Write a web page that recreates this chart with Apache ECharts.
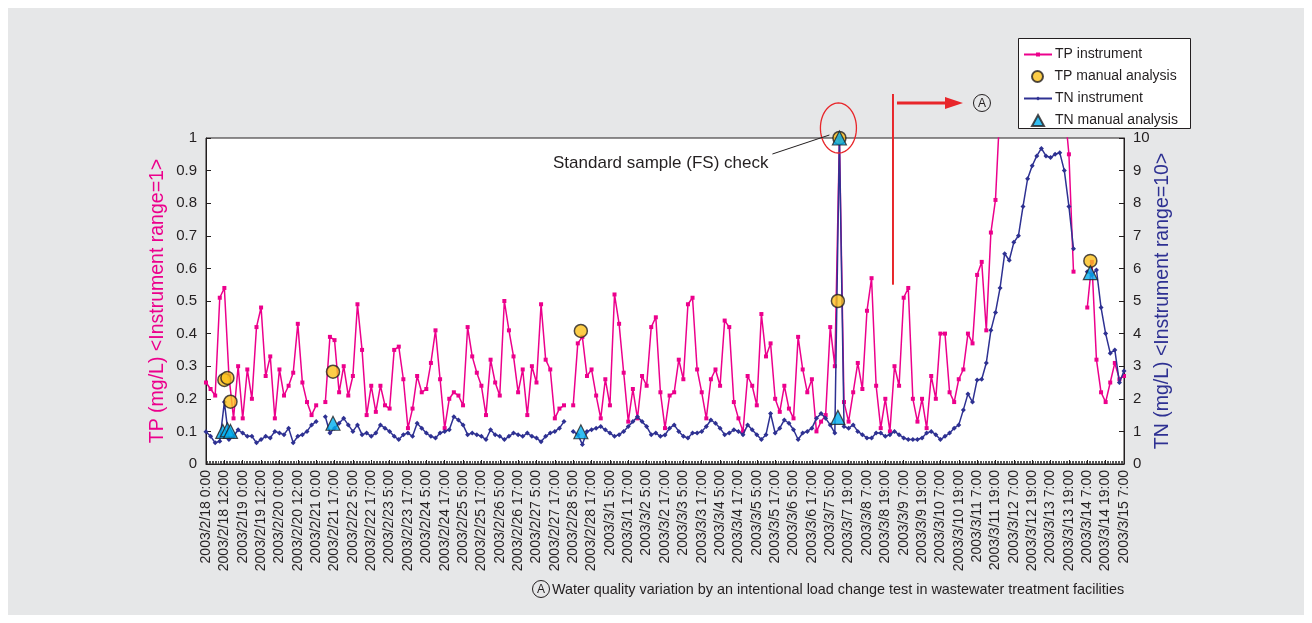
<!DOCTYPE html>
<html><head><meta charset="utf-8">
<script src="https://cdn.jsdelivr.net/npm/echarts@6/dist/echarts.min.js"></script>
<style>html,body{margin:0;padding:0;background:#fff}#c{width:1312px;height:623px}</style>
</head><body><div id="c"></div>
<script>
// x positions are hourly sample indices (0 .. 600); one tick label every 12 samples
const tickLabels = ["2003/2/18 0:00","2003/2/18 12:00","2003/2/19 0:00","2003/2/19 12:00","2003/2/20 0:00","2003/2/20 12:00","2003/2/21 0:00","2003/2/21 17:00","2003/2/22 5:00","2003/2/22 17:00","2003/2/23 5:00","2003/2/23 17:00","2003/2/24 5:00","2003/2/24 17:00","2003/2/25 5:00","2003/2/25 17:00","2003/2/26 5:00","2003/2/26 17:00","2003/2/27 5:00","2003/2/27 17:00","2003/2/28 5:00","2003/2/28 17:00","2003/3/1 5:00","2003/3/1 17:00","2003/3/2 5:00","2003/3/2 17:00","2003/3/3 5:00","2003/3/3 17:00","2003/3/4 5:00","2003/3/4 17:00","2003/3/5 5:00","2003/3/5 17:00","2003/3/6 5:00","2003/3/6 17:00","2003/3/7 5:00","2003/3/7 19:00","2003/3/8 7:00","2003/3/8 19:00","2003/3/9 7:00","2003/3/9 19:00","2003/3/10 7:00","2003/3/10 19:00","2003/3/11 7:00","2003/3/11 19:00","2003/3/12 7:00","2003/3/12 19:00","2003/3/13 7:00","2003/3/13 19:00","2003/3/14 7:00","2003/3/14 19:00","2003/3/15 7:00"];
const samplesPerLabel = 12;
const instrumentStep = 3; // instrument values below are every 3rd sample
const tpInstrument = [0.25,0.23,0.21,0.51,0.54,0.27,0.14,0.30,0.14,0.29,0.20,0.42,0.48,0.27,0.33,0.14,0.29,0.21,0.24,0.28,
0.43,0.25,0.19,0.15,0.18,null,0.19,0.39,0.38,0.22,0.30,0.21,0.27,0.49,0.35,0.15,0.24,0.16,0.24,0.18,
0.17,0.35,0.36,0.26,0.11,0.17,0.27,0.22,0.23,0.31,0.41,0.26,0.11,0.20,0.22,0.21,0.18,0.42,0.33,0.28,
0.24,0.15,0.32,0.25,0.21,0.50,0.41,0.33,0.22,0.29,0.15,0.30,0.25,0.49,0.32,0.29,0.14,0.17,0.18,null,
0.18,0.37,0.39,0.27,0.29,0.21,0.14,0.26,0.18,0.52,0.43,0.28,0.13,0.23,0.14,0.27,0.24,0.42,0.45,0.22,
0.11,0.21,0.22,0.32,0.26,0.49,0.51,0.29,0.22,0.14,0.26,0.29,0.24,0.44,0.42,0.19,0.14,0.10,0.27,0.24,
0.18,0.46,0.33,0.37,0.20,0.16,0.24,0.17,0.14,0.39,0.29,0.22,0.26,0.10,0.13,0.15,0.42,0.30,1.00,0.19,
0.13,0.22,0.31,0.23,0.47,0.57,0.24,0.11,0.20,0.10,0.30,0.24,0.51,0.54,0.20,0.13,0.20,0.11,0.27,0.20,
0.40,0.40,0.22,0.19,0.26,0.29,0.40,0.37,0.58,0.62,0.41,0.71,0.81,1.10,null,null,null,null,null,null,
null,null,null,null,null,null,null,1.10,0.95,0.59,null,null,0.48,0.62,0.32,0.22,0.19,0.25,0.31,0.26,0.27];
const tnInstrument = [0.99,0.85,0.65,0.70,1.90,0.75,0.85,1.05,0.95,0.85,0.85,0.65,0.75,0.85,0.80,1.00,0.95,0.90,1.10,0.65,
0.85,0.90,1.00,1.20,1.30,null,1.45,0.95,1.10,1.25,1.40,1.20,1.00,1.20,0.90,0.95,0.85,0.95,1.20,1.10,
1.00,0.85,0.75,0.90,0.95,0.85,1.25,1.10,0.95,0.85,0.80,0.95,1.00,1.05,1.45,1.35,1.20,0.90,0.95,0.90,
0.85,0.75,1.05,0.90,0.85,0.75,0.85,0.95,0.90,0.85,0.95,0.85,0.80,0.68,0.85,0.95,1.00,1.10,1.30,null,
1.00,0.90,0.60,1.00,1.05,1.10,1.15,1.05,0.95,0.85,0.90,1.00,1.15,1.30,1.45,1.30,1.15,0.90,0.95,0.85,
0.89,1.10,1.20,1.00,0.85,0.80,0.95,0.95,1.00,1.15,1.35,1.25,1.10,0.90,0.95,1.05,1.00,0.90,1.20,1.05,
0.90,0.75,0.90,1.55,0.95,1.10,1.35,1.25,1.05,0.75,0.95,1.00,1.10,1.40,1.55,1.40,1.20,0.95,10.0,1.15,
1.10,1.20,1.00,0.90,0.80,0.80,0.95,0.95,0.85,0.90,1.00,0.90,0.80,0.75,0.75,0.75,0.80,0.95,1.00,0.90,
0.75,0.85,0.95,1.10,1.20,1.66,2.15,1.90,2.58,2.60,3.10,4.10,4.65,5.40,6.45,6.25,6.80,7.00,7.90,8.75,
9.15,9.45,9.68,9.45,9.40,9.50,9.55,9.00,7.90,6.60,null,null,5.90,5.80,5.95,4.80,4.00,3.40,3.50,2.50,2.85];
const tpManualIdx = [12,14,16,83,245,413,414,578];
const tpManual = [0.258,0.264,0.191,0.283,0.408,0.50,1.00,0.623];
const tnManualIdx = [11,14,16,83,245,413,414,578];
const tnManual = [1.00,1.05,1.00,1.25,0.99,1.43,10.0,5.87];
const legendNames = ['TP instrument', 'TP manual analysis', 'TN instrument', 'TN manual analysis'];

const PINK = '#ec008c', NAVY = '#2e3192', INK = '#231f20';
const pair = (xs, ys) => ys.map((v, i) => [xs[i], v]);
const stepped = ys => ys.map((v, i) => [i * instrumentStep, v]);
const xMax = (tickLabels.length - 1) * samplesPerLabel;
const font = 'Liberation Sans, Arial, Helvetica, sans-serif';

// one legend per row so line rows can have small markers and symbol rows larger icons
const legendBox = {x: 1018, y: 38, w: 172, h: 90};
const rowCenters = [53, 75, 97, 119];
const rowIconH = [5, 11, 5, 11];
const rowLeft = [1023, 1031, 1023, 1031];
const legends = legendNames.map((n, i) => ({
  left: rowLeft[i], top: rowCenters[i] - 5.5, padding: 0,
  itemWidth: 28, itemHeight: rowIconH[i], z: 6,
  textStyle: {fontSize: 14, color: INK, fontFamily: font, padding: [0, 0, 0, -2]},
  data: [i === 3 ? {name: n, icon: 'path://M6,0L12,11L0,11Z'} : n]
}));

const chart = echarts.init(document.getElementById('c'), null, {renderer: 'canvas'});
chart.setOption({
  animation: false,
  backgroundColor: '#ffffff',
  textStyle: {fontFamily: font},
  grid: {left: 206, right: 188, top: 138, bottom: 159, show: true, backgroundColor: '#ffffff', borderColor: INK, borderWidth: 1},
  legend: legends,
  xAxis: {
    type: 'value', min: 0, max: xMax, interval: samplesPerLabel,
    axisLine: {lineStyle: {color: INK}},
    axisTick: {inside: true, length: 4, lineStyle: {color: INK}},
    minorTick: {show: true, splitNumber: samplesPerLabel, length: 3, lineStyle: {color: '#555'}},
    splitLine: {show: false},
    axisLabel: {rotate: 90, fontSize: 14, color: INK, margin: 6, fontFamily: font,
      formatter: v => tickLabels[Math.round(v / samplesPerLabel)] || ''}
  },
  yAxis: [{
    type: 'value', min: 0, max: 1, interval: 0.1, position: 'left',
    name: 'TP (mg/L) <Instrument range=1>', nameLocation: 'middle', nameRotate: 90, nameGap: 38, nameMoveOverlap: false,
    nameTextStyle: {color: PINK, fontSize: 19.5, fontFamily: font},
    axisLine: {show: true, lineStyle: {color: INK}},
    axisTick: {show: true, inside: true, length: 5, lineStyle: {color: INK}},
    splitLine: {show: false},
    axisLabel: {fontSize: 15, color: INK, margin: 9, fontFamily: font, formatter: v => String(+v.toFixed(1))}
  }, {
    type: 'value', min: 0, max: 10, interval: 1, position: 'right',
    name: 'TN (mg/L) <Instrument range=10>', nameLocation: 'middle', nameRotate: 90, nameGap: 29, nameMoveOverlap: false,
    nameTextStyle: {color: NAVY, fontSize: 19.5, fontFamily: font},
    axisLine: {show: true, lineStyle: {color: INK}},
    axisTick: {show: true, inside: true, length: 5, lineStyle: {color: INK}},
    splitLine: {show: false},
    axisLabel: {fontSize: 15, color: INK, margin: 9, fontFamily: font}
  }],
  series: [{
    name: 'TP instrument', type: 'line', yAxisIndex: 0, data: stepped(tpInstrument),
    symbol: 'rect', symbolSize: 4, showSymbol: true, color: PINK,
    lineStyle: {color: PINK, width: 1.5}, itemStyle: {color: PINK}, z: 2
  }, {
    name: 'TN instrument', type: 'line', yAxisIndex: 1, data: stepped(tnInstrument),
    symbol: 'diamond', symbolSize: 5, showSymbol: true, color: NAVY,
    lineStyle: {color: NAVY, width: 1.5}, itemStyle: {color: NAVY}, z: 3
  }, {
    name: 'TP manual analysis', type: 'scatter', yAxisIndex: 0, data: pair(tpManualIdx, tpManual),
    symbol: 'circle', symbolSize: 13, itemStyle: {color: '#fbc11a', borderColor: INK, borderWidth: 1.5}, z: 5
  }, {
    name: 'TN manual analysis', type: 'scatter', yAxisIndex: 1, data: pair(tnManualIdx, tnManual),
    symbol: 'triangle', symbolSize: 14, itemStyle: {color: '#00aeef', borderColor: INK, borderWidth: 1.2}, z: 6
  }]
});

// annotations anchored to the data through the axes
const P = chart.convertToPixel({xAxisIndex: 0, yAxisIndex: 0}, [414, 1.0]);
const R = chart.convertToPixel({xAxisIndex: 0, yAxisIndex: 0}, [449, 0.55]);
const ell = [];
for (let a = 0; a < 64; a++) {
  const t = a / 64 * Math.PI * 2;
  ell.push([P[0] - 1 + 18 * Math.cos(t), P[1] - 10 + 25 * Math.sin(t)]);
}
const ay = 103;
chart.setOption({
  graphic: [
    {type: 'rect', z: -10, silent: true, shape: {x: 8, y: 8, width: 1296, height: 607}, style: {fill: '#e6e7e8'}},
    {type: 'rect', z: 3, silent: true, shape: {x: legendBox.x + 0.5, y: legendBox.y + 0.5, width: legendBox.w, height: legendBox.h}, style: {fill: '#ffffff', stroke: INK, lineWidth: 1}},
    {type: 'polygon', z: 20, shape: {points: ell}, style: {fill: 'none', stroke: '#e8262a', lineWidth: 1.3}},
    {type: 'line', z: 20, shape: {x1: P[0] - 67, y1: P[1] + 16, x2: P[0] - 10, y2: P[1] - 3}, style: {stroke: INK, lineWidth: 1}},
    {type: 'text', z: 20, x: P[0] - 71, y: P[1] + 25, style: {text: 'Standard sample (FS) check', fill: INK, font: '17px ' + font, textAlign: 'right', textVerticalAlign: 'middle'}},
    {type: 'line', z: 20, shape: {x1: R[0], y1: ay - 9, x2: R[0], y2: R[1]}, style: {stroke: '#e8262a', lineWidth: 2}},
    {type: 'line', z: 20, shape: {x1: R[0] + 4, y1: ay, x2: R[0] + 57, y2: ay}, style: {stroke: '#e8262a', lineWidth: 3}},
    {type: 'polygon', z: 20, shape: {points: [[R[0] + 52, ay - 6], [R[0] + 70, ay], [R[0] + 52, ay + 6]]}, style: {fill: '#e8262a'}},
    {type: 'circle', z: 20, shape: {cx: R[0] + 89, cy: ay, r: 8.5}, style: {fill: 'none', stroke: INK, lineWidth: 1}},
    {type: 'text', z: 21, x: R[0] + 89, y: ay + 1, style: {text: 'A', fill: INK, font: '12px ' + font, textAlign: 'center', textVerticalAlign: 'middle'}},
    {type: 'circle', z: 20, shape: {cx: 541, cy: 589, r: 8.5}, style: {fill: 'none', stroke: INK, lineWidth: 1}},
    {type: 'text', z: 21, x: 541, y: 590, style: {text: 'A', fill: INK, font: '12px ' + font, textAlign: 'center', textVerticalAlign: 'middle'}},
    {type: 'text', z: 20, x: 552, y: 590, style: {text: 'Water quality variation by an intentional load change test in wastewater treatment facilities', fill: INK, font: '14.4px ' + font, textAlign: 'left', textVerticalAlign: 'middle'}}
  ]
});
</script></body></html>
